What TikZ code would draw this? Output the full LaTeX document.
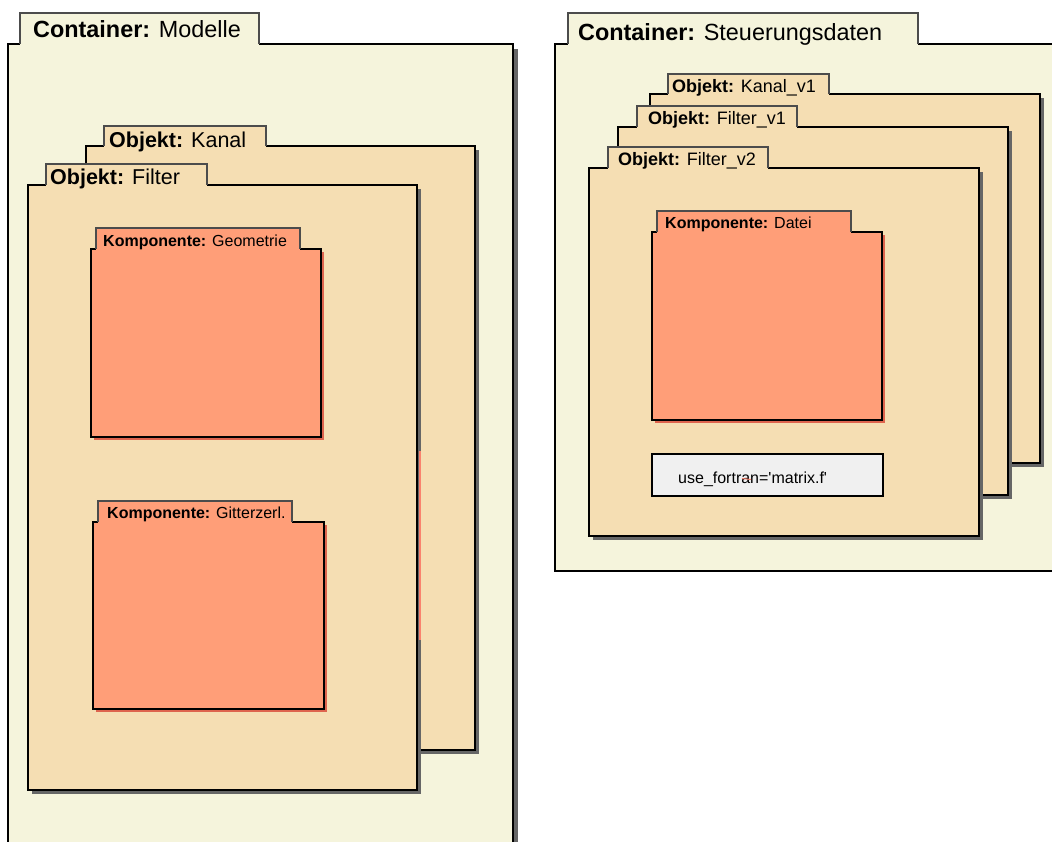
\documentclass[tikz,border=0pt]{standalone}
\usepackage{fontspec}
\setmainfont{Liberation Sans}

\definecolor{contfill}{RGB}{245,244,220}
\definecolor{objfill}{RGB}{245,222,179}
\definecolor{compfill}{RGB}{255,158,120}
\definecolor{compshade}{RGB}{222,100,78}
\definecolor{boxfill}{RGB}{240,240,240}
\definecolor{strayred}{RGB}{250,130,110}

\begin{document}
\begin{tikzpicture}[x=1pt, y=-1pt,
  cont/.style={fill=contfill},
  obj/.style={fill=objfill},
  comp/.style={fill=compfill},
  body/.style={draw=black, line width=2pt},
  tabedge/.style={draw=black!70, line width=1.2pt},
  greyshade/.style={fill=black!60},
  redshade/.style={fill=compshade},
  contlabel/.style={anchor=base west, inner sep=0pt, font=\fontsize{23.4}{28}\selectfont},
  objlabel/.style={anchor=base west, inner sep=0pt, font=\fontsize{21.5}{26}\selectfont},
  vlabel/.style={anchor=base west, inner sep=0pt, font=\fontsize{18}{22}\selectfont},
  complabel/.style={anchor=base west, inner sep=0pt, font=\fontsize{16}{19}\selectfont},
  codebox/.style={fill=boxfill, draw=black, line width=1.5pt},
  stray/.style={draw=strayred, line width=1.3pt}]
\useasboundingbox (0,0) rectangle (1052,841);
\fill[white] (0,0) rectangle (1052,841);
\clip (0,0) rectangle (1052,841);

% containers
\fill[greyshade] (13,49) rectangle (518,880);
\draw[cont,body] (8,44) rectangle (513,880);
\fill[cont] (20,13) rectangle (259,45.5);
\draw[tabedge] (20,44)--(20,13)--(259,13)--(259,44);

\draw[cont,body] (555,44) rectangle (1080,571);
\fill[cont] (568,13) rectangle (918,45.5);
\draw[tabedge] (568,44)--(568,13)--(918,13)--(918,44);

% objects
\foreach \xl/\yt/\xr/\yb/\txl/\tyt/\txr in {86/146/475/750/104/126/266, 28/185/417/790/46/164/207,
  650/94/1040/463/668/74/829, 618/127/1008/495/637/106/797, 589/168/979/536/608/147/768}{
  \fill[greyshade] (\xl+4,\yt+4) rectangle (\xr+4,\yb+4);
  \draw[obj,body] (\xl,\yt) rectangle (\xr,\yb);
  \fill[obj] (\txl,\tyt) rectangle (\txr,\yt+1.5);
  \draw[tabedge] (\txl,\yt)--(\txl,\tyt)--(\txr,\tyt)--(\txr,\yt);
}

% components
\foreach \xl/\yt/\xr/\yb/\txl/\tyt/\txr in {91/249/321/437/96/228/300, 93/522/324/709/98/501/292,
  652/232/882/420/657/211/851}{
  \fill[redshade] (\xl+3,\yt+3) rectangle (\xr+3,\yb+3);
  \draw[comp,body] (\xl,\yt) rectangle (\xr,\yb);
  \fill[comp] (\txl,\tyt) rectangle (\txr,\yt+1.5);
  \draw[tabedge] (\txl,\yt)--(\txl,\tyt)--(\txr,\tyt)--(\txr,\yt);
}

\draw[stray] (420,451)--(420,640);
\draw[codebox] (652,454) rectangle (883,496);

% labels
\node[contlabel] (modelle) at (33,37) {\textbf{Container:} Modelle};
\node[contlabel] (steuerung) at (578,40) {\textbf{Container:} Steuerungsdaten};
\node[objlabel] (kanal) at (109,147) {\textbf{Objekt:} Kanal};
\node[objlabel] (filter) at (50,184) {\textbf{Objekt:} Filter};
\node[vlabel] (kanalv) at (672,92.5) {\textbf{Objekt:} Kanal\_v1};
\node[vlabel] (filtervA) at (648,124) {\textbf{Objekt:} Filter\_v1};
\node[vlabel] (filtervB) at (618,165) {\textbf{Objekt:} Filter\_v2};
\node[complabel] (geometrie) at (103,246.5) {\textbf{Komponente:} Geometrie};
\node[complabel] (gitter) at (107,518) {\textbf{Komponente:} Gitterzerl.};
\node[complabel] (datei) at (665,228) {\textbf{Komponente:} Datei};
\node[complabel] (fortran) at (678,483) {use\_fortran=\textquotesingle matrix.f\textquotesingle};
\draw[stray, line width=1pt] (742,478.5)--(751,479.5);
\end{tikzpicture}
\end{document}
